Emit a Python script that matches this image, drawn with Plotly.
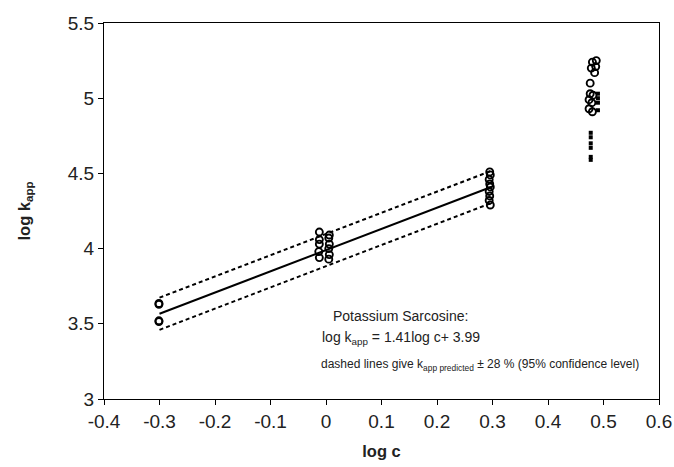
import plotly.graph_objects as go

# Data
c_m03_x = [-0.301, -0.301, -0.301, -0.301]
c_m03_y = [3.635, 3.63, 3.52, 3.515]
c_0_x = [-0.012, -0.012, -0.012, -0.013, -0.012, 0.006, 0.005, 0.006, 0.005, 0.006, 0.005]
c_0_y = [4.11, 4.06, 4.03, 3.98, 3.94, 4.09, 4.07, 4.03, 4.00, 3.96, 3.93]
c_03_x = [0.295, 0.296, 0.294, 0.295, 0.296, 0.294, 0.295, 0.294, 0.296]
c_03_y = [4.51, 4.49, 4.46, 4.43, 4.41, 4.38, 4.35, 4.32, 4.29]
c_05_x = [0.480, 0.487, 0.486, 0.478, 0.484, 0.476, 0.476, 0.481, 0.474, 0.479, 0.474, 0.480]
c_05_y = [5.24, 5.25, 5.21, 5.20, 5.17, 5.10, 5.03, 5.02, 4.99, 4.97, 4.93, 4.91]
sq_x = [0.490, 0.490, 0.490, 0.490, 0.477, 0.477, 0.477, 0.477, 0.477, 0.477]
sq_y = [5.03, 5.00, 4.97, 4.92, 4.77, 4.74, 4.70, 4.67, 4.61, 4.59]

fit_x = [-0.3, 0.3]
fit_y = [3.567, 4.413]
upper_y = [3.674, 4.520]
lower_y = [3.460, 4.306]

x_ticks = [-0.4, -0.3, -0.2, -0.1, 0, 0.1, 0.2, 0.3, 0.4, 0.5, 0.6]
x_tick_labels = ["-0.4", "-0.3", "-0.2", "-0.1", "0", "0.1", "0.2", "0.3", "0.4", "0.5", "0.6"]
y_ticks = [3, 3.5, 4, 4.5, 5, 5.5]
y_tick_labels = ["3", "3.5", "4", "4.5", "5", "5.5"]

FONT = "Liberation Sans, Arial, sans-serif"
TXT = "#222"

fig = go.Figure()

circle_style = dict(symbol="circle-open", size=7, color="black", line=dict(width=1.9, color="black"))
for xs, ys in [(c_m03_x, c_m03_y), (c_0_x, c_0_y), (c_03_x, c_03_y), (c_05_x, c_05_y)]:
    fig.add_trace(go.Scatter(x=xs, y=ys, mode="markers", marker=circle_style, showlegend=False))

fig.add_trace(go.Scatter(x=sq_x, y=sq_y, mode="markers",
                         marker=dict(symbol="square", size=4, color="black"),
                         showlegend=False))

fig.add_trace(go.Scatter(x=fit_x, y=fit_y, mode="lines",
                         line=dict(color="black", width=2), showlegend=False))
for ys in (upper_y, lower_y):
    fig.add_trace(go.Scatter(x=fit_x, y=ys, mode="lines",
                             line=dict(color="black", width=2, dash="4px,3px"),
                             showlegend=False))

fig.add_annotation(x=0.135, y=3.55, text="Potassium Sarcosine:", showarrow=False,
                   font=dict(family=FONT, size=14, color=TXT))
fig.add_annotation(x=0.135, y=3.405, text="log k<sub>app</sub> = 1.41log c+ 3.99", showarrow=False,
                   font=dict(family=FONT, size=14, color=TXT))
fig.add_annotation(x=0.278, y=3.228,
                   text="dashed lines give k<sub>app predicted</sub> ± 28 % (95% confidence level)",
                   showarrow=False, font=dict(family=FONT, size=12, color=TXT))

axis_common = dict(showgrid=False, zeroline=False, showline=True, linecolor="black", linewidth=1,
                   mirror=True, ticks="outside", ticklen=5, tickcolor="black", automargin=False,
                   tickfont=dict(family=FONT, size=19, color=TXT))

fig.update_xaxes(range=[-0.4, 0.6], tickvals=x_ticks, ticktext=x_tick_labels,
                 title=dict(text="<b>log c</b>", font=dict(family=FONT, size=16.5, color=TXT), standoff=14),
                 **axis_common)
fig.update_yaxes(range=[3, 5.5], tickvals=y_ticks, ticktext=y_tick_labels,
                 title=dict(text="<b>log k<sub>app</sub></b>", font=dict(family=FONT, size=16.5, color=TXT), standoff=33),
                 **axis_common)

fig.update_layout(width=674, height=467, margin=dict(l=104, r=15, t=23, b=68),
                  plot_bgcolor="white", paper_bgcolor="white", font=dict(family=FONT))

fig.write_html("out.html")
